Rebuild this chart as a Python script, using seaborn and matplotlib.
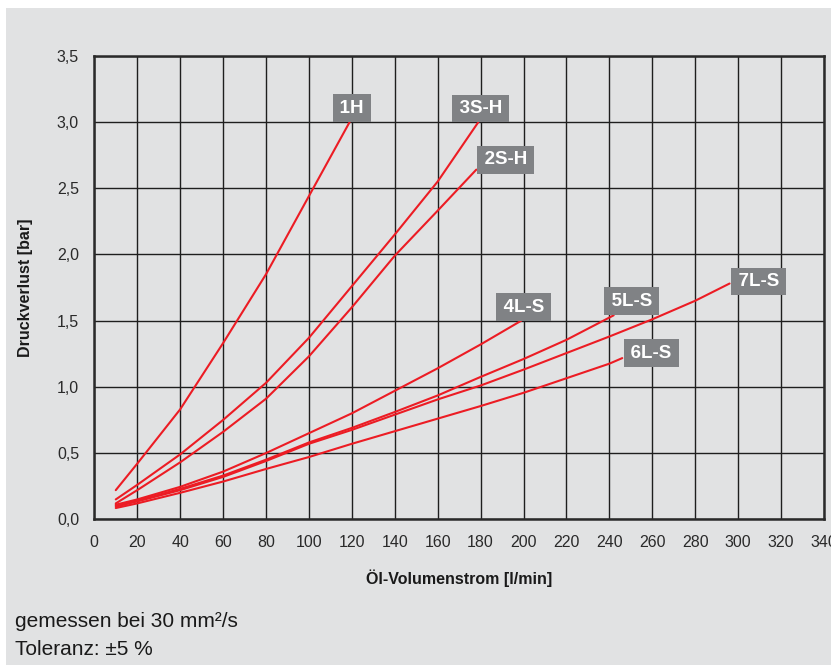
import matplotlib

matplotlib.use("Agg")
import matplotlib.pyplot as plt
import matplotlib.ticker as mticker
import pandas as pd
import seaborn as sns
from matplotlib.patches import Rectangle

# flow rate [l/min] and pressure loss [bar]
x_1h = [10, 20, 40, 60, 80, 100, 119]
y_1h = [0.22, 0.42, 0.83, 1.33, 1.85, 2.44, 3.0]

x_3sh = [10, 20, 40, 60, 80, 100, 120, 140, 160, 179]
y_3sh = [0.15, 0.26, 0.49, 0.75, 1.03, 1.37, 1.76, 2.15, 2.55, 3.0]

x_2sh = [10, 20, 40, 60, 80, 100, 120, 140, 160, 178]
y_2sh = [0.12, 0.22, 0.43, 0.66, 0.91, 1.23, 1.60, 1.99, 2.33, 2.64]

x_4ls = [10, 20, 40, 60, 80, 100, 120, 140, 160, 180, 199]
y_4ls = [0.11, 0.15, 0.245, 0.36, 0.50, 0.65, 0.80, 0.97, 1.14, 1.32, 1.5]

x_5ls = [10, 20, 40, 60, 80, 100, 120, 140, 160, 180, 200, 220, 242]
y_5ls = [0.105, 0.14, 0.23, 0.33, 0.45, 0.58, 0.69, 0.81, 0.935, 1.075, 1.21, 1.355, 1.54]

x_6ls = [10, 20, 40, 60, 80, 100, 120, 140, 160, 180, 200, 220, 240, 246]
y_6ls = [0.085, 0.12, 0.20, 0.285, 0.38, 0.47, 0.57, 0.665, 0.76, 0.855, 0.955, 1.065, 1.175, 1.217]

x_7ls = [10, 20, 40, 60, 80, 100, 120, 140, 160, 180, 200, 220, 240, 260, 280, 296]
y_7ls = [0.095, 0.135, 0.22, 0.32, 0.44, 0.57, 0.675, 0.79, 0.905, 1.01, 1.13, 1.255, 1.38, 1.51, 1.65, 1.78]

series = {
    "1H": (x_1h, y_1h),
    "3S-H": (x_3sh, y_3sh),
    "2S-H": (x_2sh, y_2sh),
    "4L-S": (x_4ls, y_4ls),
    "5L-S": (x_5ls, y_5ls),
    "6L-S": (x_6ls, y_6ls),
    "7L-S": (x_7ls, y_7ls),
}

x_ticks = list(range(0, 341, 20))
y_ticks = [0.0, 0.5, 1.0, 1.5, 2.0, 2.5, 3.0, 3.5]

# label box offsets from the curve end, in points
label_offsets = {
    "1H": (1.5, 10),
    "3S-H": (1.5, 9.7),
    "2S-H": (21, 7),
    "4L-S": (1.5, 9.8),
    "5L-S": (13, 10),
    "6L-S": (21, 3.5),
    "7L-S": (21, 1.5),
}

BG = "#e1e2e3"
RED = "#ec1c24"
BOX = "#808285"
GRID = "#1e1e1e"

rows = []
for name, (xs, ys) in series.items():
    for xv, yv in zip(xs, ys):
        rows.append({"series": name, "flow": xv, "dp": yv})
df = pd.DataFrame(rows)

sns.set_theme(style="white")
plt.rcParams["font.family"] = ["Liberation Sans", "DejaVu Sans"]

fig = plt.figure(figsize=(8.31, 6.68), dpi=100)
fig.patch.set_facecolor("white")
fig.patches.append(
    Rectangle((6 / 831, 3 / 668), 1 - 6 / 831, 1 - 11 / 668, transform=fig.transFigure,
              facecolor=BG, edgecolor="none", zorder=-10)
)
ax = fig.add_axes([94.3 / 831, 1 - 519.3 / 668, (824 - 94.3) / 831, (519.3 - 55.7) / 668])
ax.set_facecolor(BG)

sns.lineplot(
    data=df, x="flow", y="dp", hue="series", units="series", estimator=None,
    palette={k: RED for k in series}, linewidth=1.5, legend=False, sort=False, ax=ax, zorder=3,
)

for name, (xs, ys) in series.items():
    dx, dy = label_offsets[name]
    ax.annotate(
        f"\u200a{name}\u200a", xy=(xs[-1], ys[-1]), xytext=(dx, dy), textcoords="offset points",
        ha="center", va="center", fontsize=13.5, fontweight="bold", color="white",
        bbox=dict(boxstyle="square,pad=0.29", facecolor=BOX, edgecolor="none"), zorder=5,
    )

ax.set_xlim(0, 340)
ax.set_ylim(0, 3.5)
ax.set_xticks(x_ticks)
ax.set_yticks(y_ticks)
ax.yaxis.set_major_formatter(mticker.FuncFormatter(lambda v, p: f"{v:.1f}".replace(".", ",")))
ax.grid(True, color=GRID, linewidth=1.0)
ax.set_axisbelow(True)
for side in ["left", "bottom", "top", "right"]:
    ax.spines[side].set_visible(True)
    ax.spines[side].set_color("#2a2a2a")
    ax.spines[side].set_linewidth(1.8)
ax.tick_params(axis="both", length=0, labelsize=11.5, colors="#2a2a2a")
ax.tick_params(axis="x", pad=11)
ax.tick_params(axis="y", pad=11)

ax.set_xlabel("Öl-Volumenstrom [l/min]", fontsize=11.5, fontweight="bold", color="#1a1a1a", labelpad=14)
ax.set_ylabel("Druckverlust [bar]", fontsize=11.5, fontweight="bold", color="#1a1a1a", labelpad=17)

fig.text(15 / 831, 1 - 626.7 / 668, "gemessen bei 30 mm²/s", fontsize=15, color="#1a1a1a", va="baseline")
fig.text(15 / 831, 1 - 655 / 668, "Toleranz: ±5 %", fontsize=15, color="#1a1a1a", va="baseline")

fig.savefig("out.png", dpi=100, facecolor=fig.get_facecolor())
